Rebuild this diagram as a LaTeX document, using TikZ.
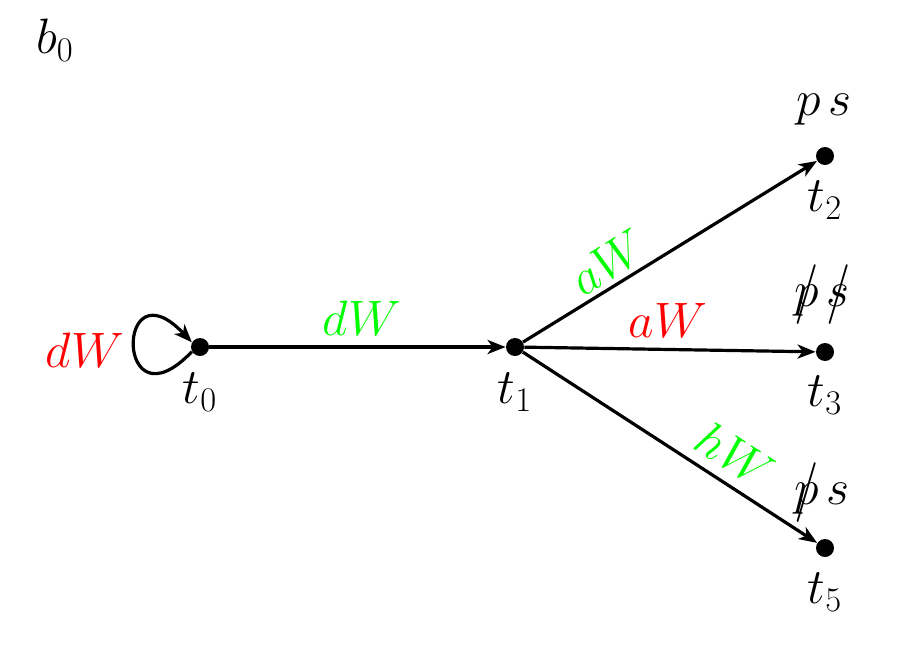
\documentclass[tikz,border=0pt]{standalone}
\usetikzlibrary{arrows.meta}
\definecolor{grn}{RGB}{0,255,0}
\definecolor{rd}{RGB}{255,0,0}
\newcommand{\crs}[1]{\ooalign{$#1$\cr\hidewidth\raisebox{-0.06em}{\scalebox{1}[1.2]{$/$}}\hidewidth\cr}}
\begin{document}
\begin{tikzpicture}[x=0.5pt,y=0.5pt,
  every node/.style={font=\fontsize{24}{29}\selectfont},
  dot/.style={circle,fill=black,inner sep=0pt,minimum size=9pt},
  lbl/.style={inner sep=0pt},
  edge/.style={line width=1.6pt,-{Stealth[length=9pt,width=7pt,inset=2.5pt]}},
  glab/.style={text=grn,inner sep=0pt},
  rlab/.style={text=rd,inner sep=0pt}]
\useasboundingbox (0,0) rectangle (903,644);
\node[lbl] (b0) at (55,604) {$b_0$};
\node[dot] (t0) at (200,297) {};
\node[dot] (t1) at (515,297) {};
\node[dot] (t2) at (825,488) {};
\node[dot] (t3) at (825,292) {};
\node[dot] (t5) at (825,96) {};
\node[lbl] (l0) at (200,252) {$t_0$};
\node[lbl] (l1) at (515,252) {$t_1$};
\node[lbl] (l2) at (825,444) {$t_2$};
\node[lbl] (l3) at (825,249) {$t_3$};
\node[lbl] (l5) at (825,52) {$t_5$};
\node[lbl] (s2) at (824,534) {$p\,s$};
\node[lbl] (s3) at (822,339) {\crs{p}$\,$\crs{s}};
\node[lbl] (s5) at (822,141) {\crs{p}$\,s$};
\draw[edge] (t0) -- (t1);
\draw[edge] (t1) -- (t2);
\draw[edge] (t1) -- (t3);
\draw[edge] (t1) -- (t5);
\draw[edge] (t0.-150) .. controls (115,212) and (115,383) .. (t0.150);
\node[glab] (e01) at (362,326) {$dW$};
\node[glab,rotate=32] (e12) at (608,382) {$aW$};
\node[rlab] (e13) at (668,324) {$aW$};
\node[glab,rotate=-33] (e15) at (735,189) {$hW$};
\node[rlab] (e00) at (85,294) {$dW$};
\end{tikzpicture}
\end{document}
